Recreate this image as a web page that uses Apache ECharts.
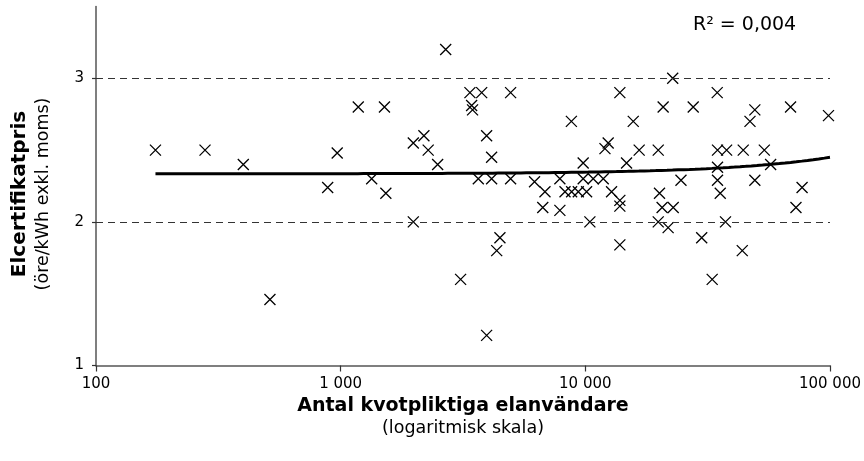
<!DOCTYPE html>
<html>
<head>
<meta charset="utf-8">
<script src="https://cdn.jsdelivr.net/npm/echarts@6/dist/echarts.min.js"></script>
<style>
html,body{margin:0;padding:0;background:#fff;}
#chart{width:864px;height:461px;}
</style>
</head>
<body>
<div id="chart"></div>
<script>
// Number of quota-obliged customers (x, log scale)
const customers = [175, 279, 400, 514, 885, 968, 1180, 1339, 1510, 1530,
  1981, 1981, 2189, 2279, 2491, 2687, 3092, 3376, 3430, 3460,
  3652, 3770, 3950, 3950, 4140, 4140, 4343, 4477, 4950, 4950,
  6200, 6700, 6840, 7870, 7870, 8260, 8770, 8790, 9360, 9800,
  9800, 10120, 10440, 10770, 11840, 12030, 12400, 12800, 13840, 13840,
  13840, 13840, 14740, 15700, 16600, 19860, 19860, 20100, 20600, 20800,
  21800, 22760, 22870, 24600, 27600, 29900, 33000, 34600, 34700, 34700,
  34700, 35600, 37400, 37800, 43800, 44200, 47100, 49300, 49300, 53900,
  57200, 69000, 72600, 76900, 98600];
// Certificate price (öre/kWh)
const prices = [2.50, 2.50, 2.40, 1.46, 2.24, 2.48, 2.80, 2.30, 2.80, 2.20,
  2.55, 2.00, 2.60, 2.50, 2.40, 3.20, 1.60, 2.90, 2.81, 2.78,
  2.30, 2.90, 2.60, 1.21, 2.45, 2.30, 1.80, 1.89, 2.90, 2.30,
  2.28, 2.10, 2.21, 2.30, 2.08, 2.21, 2.70, 2.21, 2.21, 2.41,
  2.30, 2.21, 2.00, 2.30, 2.30, 2.51, 2.55, 2.21, 2.90, 2.15,
  2.11, 1.84, 2.41, 2.70, 2.50, 2.50, 2.00, 2.20, 2.10, 2.80,
  1.96, 3.00, 2.10, 2.29, 2.80, 1.89, 1.60, 2.90, 2.50, 2.38,
  2.29, 2.20, 2.00, 2.50, 1.80, 2.50, 2.70, 2.78, 2.29, 2.50,
  2.40, 2.80, 2.10, 2.24, 2.74];
// Linear trendline (y = a + b*x), shown on a log x axis
const trendX = [175, 100000];
const trendY = [2.335, 2.45];
const rSquaredLabel = 'R² = 0,004';
const xTickValues = [100, 1000, 10000, 100000];
const xTickLabels = ['100', '1 000', '10 000', '100 000'];
const yTicks = [1, 2, 3];
const yGridValues = [2, 3];

const scatterData = customers.map((c, i) => [c, prices[i]]);
const slope = (trendY[1] - trendY[0]) / (trendX[1] - trendX[0]);
const trendData = [];
const steps = 120;
for (let i = 0; i <= steps; i++) {
  const lx = Math.log10(trendX[0]) + (Math.log10(trendX[1]) - Math.log10(trendX[0])) * i / steps;
  const x = Math.pow(10, lx);
  trendData.push([x, trendY[0] + slope * (x - trendX[0])]);
}

const FONT = 'DejaVu Sans';
const chart = echarts.init(document.getElementById('chart'), null, {renderer: 'canvas'});
chart.setOption({
  animation: false,
  backgroundColor: '#fff',
  grid: {left: 96, right: 34, top: 6.5, bottom: 95.5, containLabel: false},
  xAxis: {
    type: 'log', logBase: 10, min: xTickValues[0], max: xTickValues[xTickValues.length - 1],
    axisLine: {show: true, onZero: false, lineStyle: {color: '#555', width: 1.5}},
    axisTick: {show: true, length: 6, inside: false, lineStyle: {color: '#333', width: 1.2}},
    minorTick: {show: false},
    splitLine: {show: false},
    axisLabel: {
      margin: 11, color: '#000', fontFamily: FONT, fontSize: 15,
      formatter: v => { const i = xTickValues.findIndex(t => Math.abs(t - v) / t < 1e-6); return i >= 0 ? xTickLabels[i] : ''; }
    },
    name: '{b|Antal kvotpliktiga elanvändare}\n{n|(logaritmisk skala)}',
    nameLocation: 'middle', nameGap: 25,
    nameTextStyle: {
      verticalAlign: 'top',
      rich: {
        b: {fontFamily: FONT, fontWeight: 'bold', fontSize: 19, color: '#000', lineHeight: 24, align: 'center'},
        n: {fontFamily: FONT, fontSize: 17.5, color: '#000', lineHeight: 22, align: 'center'}
      }
    }
  },
  yAxis: {
    type: 'value', min: 1, max: 3.5, interval: 1,
    axisLine: {show: true, lineStyle: {color: '#555', width: 1.5}},
    axisTick: {show: true, length: 4, inside: false, customValues: yTicks, lineStyle: {color: '#333', width: 1.2}},
    splitLine: {show: false},
    axisLabel: {
      margin: 12, color: '#000', fontFamily: FONT, fontSize: 15,
      customValues: yTicks,
      formatter: v => String(v)
    },
    name: '{b|Elcertifikatpris}\n{n|(öre/kWh exkl. moms)}',
    nameLocation: 'middle', nameGap: 42, nameRotate: 90,
    nameTextStyle: {
      padding: [0, 16, 0, 0],
      rich: {
        b: {fontFamily: FONT, fontWeight: 'bold', fontSize: 20, color: '#000', lineHeight: 25, align: 'center'},
        n: {fontFamily: FONT, fontSize: 17.5, color: '#000', lineHeight: 22, align: 'center'}
      }
    }
  },
  graphic: [{
    type: 'text', left: 693, top: 16,
    style: {text: rSquaredLabel, fontFamily: FONT, fontSize: 19, fill: '#000'}
  }],
  series: [{
    type: 'scatter',
    data: scatterData,
    symbol: 'path://M0,0L10,10M10,0L0,10',
    symbolSize: 11,
    itemStyle: {color: 'rgba(0,0,0,0)', borderColor: '#000', borderWidth: 1.3, opacity: 1},
    emphasis: {disabled: true},
    markLine: {
      silent: true, symbol: 'none', animation: false,
      label: {show: false},
      lineStyle: {color: '#333', width: 1, type: [7, 5]},
      emphasis: {disabled: true},
      data: yGridValues.map(v => ({yAxis: v}))
    },
    z: 3
  }, {
    type: 'line',
    data: trendData,
    showSymbol: false, symbol: 'none',
    lineStyle: {color: '#000', width: 3},
    emphasis: {disabled: true},
    z: 4
  }]
});
</script>
</body>
</html>
